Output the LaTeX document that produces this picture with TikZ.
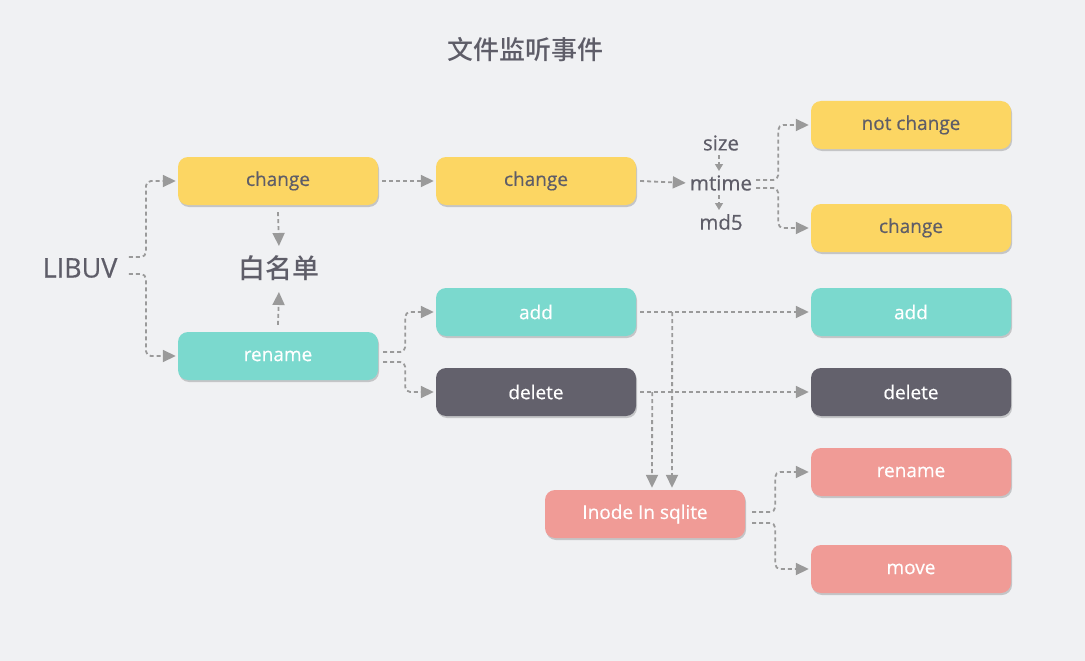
\documentclass[tikz,border=0pt]{standalone}
\usepackage{fontspec}
\setmainfont{Open Sans}[FakeBold=0.5]
\newfontfamily\cjk{Noto Sans CJK SC}[UprightFont={* Medium}]
\usetikzlibrary{arrows.meta,shadows}

\definecolor{bgc}{HTML}{F0F1F3}
\definecolor{yel}{HTML}{FCD663}
\definecolor{tealc}{HTML}{7BD9CE}
\definecolor{darkc}{HTML}{63616C}
\definecolor{pinkc}{HTML}{F09B96}
\definecolor{txt}{HTML}{5E5D68}
\definecolor{linkc}{HTML}{9A9A9A}

\begin{document}
\begin{tikzpicture}[x=1pt,y=-1pt]
        \fill[bgc] (0,0) rectangle (1085,661);
        \useasboundingbox (0,0) rectangle (1085,661);

        \tikzstyle{box}=[rounded corners=10pt,minimum width=200pt,minimum height=48pt,
            font=\fontsize{19}{22}\selectfont,text=white,
            drop shadow={shadow xshift=1pt,shadow yshift=-2pt,fill=black,opacity=.18}]
        \tikzstyle{yelbox}=[box,fill=yel,text=txt]
        \tikzstyle{tealbox}=[box,fill=tealc]
        \tikzstyle{darkbox}=[box,fill=darkc]
        \tikzstyle{pinkbox}=[box,fill=pinkc]
        \tikzstyle{attr}=[text=txt,inner sep=2pt,font=\fontsize{20.5}{24}\selectfont]
        \tikzstyle{link}=[draw=linkc,line width=1.8pt,dash pattern=on 4pt off 3pt,
            -{Triangle[length=13pt,width=12pt]},shorten >=2pt]
        \tikzstyle{fork}=[link,rounded corners=5pt]
        \tikzstyle{tiny}=[link,-{Triangle[length=7pt,width=8pt]},line width=1.2pt,shorten >=0pt]

        \node[text=txt,font=\cjk\fontsize{26}{30}\selectfont] (title) at (525,50) {文件监听事件};

        \node[text=txt,font=\fontsize{27}{30}\selectfont] (libuv) at (80,268) {LIBUV};
        \node[text=txt,font=\cjk\fontsize{27}{30}\selectfont] (white) at (279,268) {白名单};

        % change branch
        \node[yelbox] (chg) at (278,181) {change};
        \node[yelbox] (chg2) at (536,181) {change};
        \node[yelbox] (nochg) at (911,125) {not change};
        \node[yelbox] (chg3) at (911,228) {change};

        \node[attr] (size) at (721,143) {size};
        \node[attr] (mtime) at (721,183) {mtime};
        \node[attr] (md5) at (721,222) {md5};

        % rename branch
        \node[tealbox] (ren) at (278,356) {rename};
        \node[tealbox] (add) at (536,312) {add};
        \node[darkbox] (del) at (536,392) {delete};
        \node[tealbox] (add2) at (911,312) {add};
        \node[darkbox] (del2) at (911,392) {delete};

        \node[pinkbox] (inode) at (645,514) {Inode In sqlite};
        \node[pinkbox] (ren2) at (911,472) {rename};
        \node[pinkbox] (move) at (911,569) {move};

        %connectors
        \draw[fork] ([xshift=8pt,yshift=11pt]libuv.east) -- ++(17,0) |- (chg.west);
        \draw[fork] ([xshift=8pt,yshift=-6pt]libuv.east) -- ++(17,0) |- (ren.west);

        \draw[link] ([xshift=4pt]chg.east) -- (chg2.west);
        \draw[link] ([xshift=4pt]chg2.east) -- (mtime.west);
        \draw[tiny] ([xshift=-2pt,yshift=-12pt]size.center) -- ([xshift=-2pt,yshift=12pt]mtime.center);
        \draw[tiny] ([xshift=-2pt,yshift=-12pt]mtime.center) -- ([xshift=-2pt,yshift=12pt]md5.center);
        \draw[fork] ([xshift=2pt,yshift=3pt]mtime.east) -- ++(22,0) |- (nochg.west);
        \draw[fork] ([xshift=2pt,yshift=-5pt]mtime.east) -- ++(22,0) |- (chg3.west);

        \draw[link] ([yshift=-7pt]chg.south) -- ([yshift=20pt]white.center);
        \draw[link] ([yshift=7pt]ren.north) -- ([yshift=-22pt]white.center);

        \draw[fork] ([xshift=5pt,yshift=4pt]ren.east) -- ++(22,0) |- (add.west);
        \draw[fork] ([xshift=5pt,yshift=-6pt]ren.east) -- ++(22,0) |- (del.west);

        \draw[link] ([xshift=4pt]add.east) -- (add2.west);
        \draw[link] ([xshift=4pt]del.east) -- (del2.west);
        \draw[link] ([xshift=36pt]add.east) -- ([xshift=27pt]inode.north);
        \draw[link] ([xshift=16pt]del.east) -- ([xshift=7pt]inode.north);

        \draw[fork] ([xshift=7pt,yshift=2pt]inode.east) -- ++(23,0) |- (ren2.west);
        \draw[fork] ([xshift=7pt,yshift=-9pt]inode.east) -- ++(23,0) |- (move.west);
\end{tikzpicture}
\end{document}
